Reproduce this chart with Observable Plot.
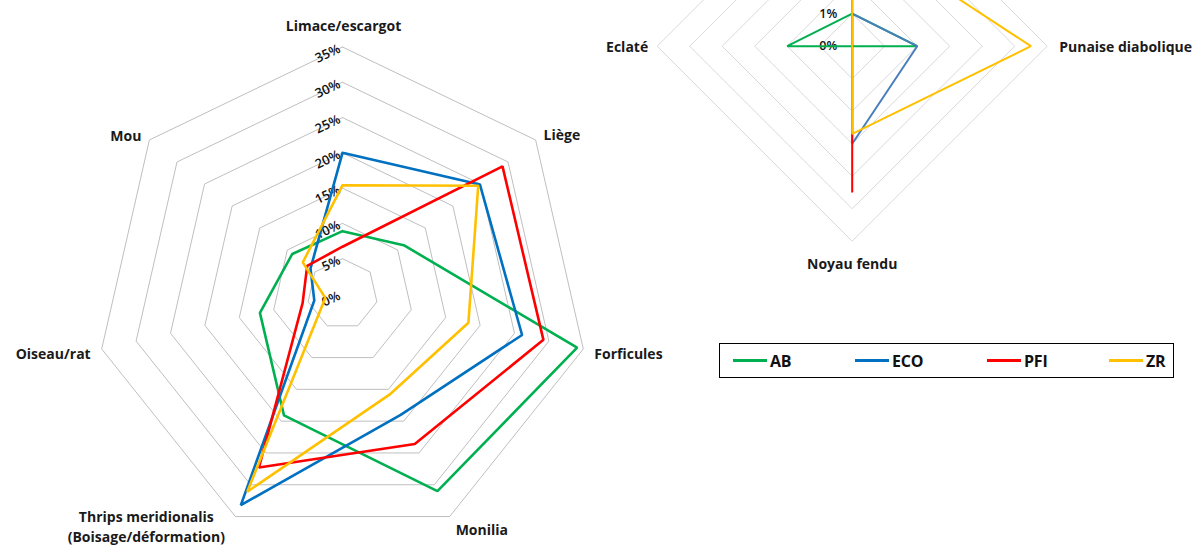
<!DOCTYPE html>
<html>
<head>
<meta charset="utf-8">
<script src="https://cdn.jsdelivr.net/npm/d3@7"></script>
<script src="https://cdn.jsdelivr.net/npm/@observablehq/plot@0.6"></script>
<style>
  body { margin: 0; background: #fff; }
  #wrap { position: relative; width: 1198px; height: 545px; overflow: hidden; font-family: "Open Sans", Lato, sans-serif; }
  #wrap svg { position: absolute; left: 0; top: 0; }
  #legend { position: absolute; left: 719px; top: 343px; width: 453px; height: 33px; border: 1px solid #000; box-sizing: content-box; }
  .item { position: absolute; top: 0; height: 33px; display: flex; align-items: center; font-weight: 700; font-size: 16px; color: #111; letter-spacing: -0.2px; }
  .sw { display: inline-block; width: 34px; height: 3px; margin-right: 3px; }
</style>
</head>
<body>
<div id="wrap"></div>
<script>
// ---------- data ----------
const seriesNames = ["AB", "ECO", "PFI", "ZR"];

// left radar (7 axes, clockwise from top)
const leftCategories = ["Limace/escargot", "Liège", "Forficules", "Monilia", "Thrips meridionalis\n(Boisage/déformation)", "Oiseau/rat", "Mou"];
const leftAB  = [8.9, 11.1, 34.1, 31.0, 19.1, 12.0, 9.1];
const leftECO = [20.0, 24.9, 26.1, 19.0, 33.2, 4.1, 5.8];
const leftPFI = [6.7, 29.0, 29.2, 23.6, 27.3, 5.8, 6.4];
const leftZR  = [15.4, 24.6, 18.3, 15.7, 31.1, 2.5, 7.2];
const leftTicks = [0, 5, 10, 15, 20, 25, 30, 35];

// right radar (4 axes, clockwise from top; the top axis lies outside the picture)
const rightCategories = ["", "Punaise diabolique", "Noyau fendu", "Eclaté"];
const rightAB  = [1, 2, 0, 2];
const rightECO = [1, 2, 3, 0];
const rightPFI = [2, 0, 4.5, 0];
const rightZR  = [3.6, 5.5, 2.7, 0];
const rightTicks = [0, 1, 2, 3, 4, 5, 6];

// ---------- helpers ----------
const W = 1198, H = 545;
function px(v, i, n) { return v * Math.sin(2 * Math.PI * i / n); }
function py(v, i, n) { return v * Math.cos(2 * Math.PI * i / n); }

function buildSeries(cats, arrays) {
  const n = cats.length, rows = [];
  seriesNames.forEach((s, k) => {
    for (let j = 0; j <= n; j++) {
      const i = j % n;
      rows.push({series: s, i, value: arrays[k][i]});
    }
  });
  return rows;
}
function buildRings(ticks, n) {
  const rows = [];
  ticks.filter(t => t > 0).forEach(t => {
    for (let j = 0; j <= n; j++) rows.push({t, i: j % n});
  });
  return rows;
}

function radar(opts) {
  const {cats, arrays, ticks, cx, cy, k, colors, ringColor, lineWidth, labelSpecs, tickMark} = opts;
  const n = cats.length;
  const rmax = d3.max(ticks);
  const series = buildSeries(cats, arrays);
  const rings = buildRings(ticks, n);
  const labelMarks = cats.map((c, i) => {
    if (!c) return null;
    const s = labelSpecs[i];
    return Plot.text([c], {
      x: () => px(rmax, i, n), y: () => py(rmax, i, n), text: d => d,
      textAnchor: s.anchor, dx: s.dx, dy: s.dy, lineHeight: 1.4,
      fontSize: 14, fontWeight: 700, fill: "#1a1a1a"
    });
  }).filter(Boolean);
  return Plot.plot({
    width: W, height: H, margin: 0,
    style: {background: "transparent", fontFamily: "'Open Sans', Lato, sans-serif", overflow: "hidden"},
    x: {domain: [-cx / k, (W - cx) / k], axis: null},
    y: {domain: [-(H - cy) / k, cy / k], axis: null},
    color: {domain: seriesNames, range: colors},
    marks: [
      Plot.line(rings, {x: d => px(d.t, d.i, n), y: d => py(d.t, d.i, n), z: "t", stroke: ringColor, strokeWidth: 1}),
      tickMark,
      Plot.line(series, {x: d => px(d.value, d.i, n), y: d => py(d.value, d.i, n), z: "series", stroke: "series", strokeWidth: lineWidth, strokeLinejoin: "miter"}),
      ...labelMarks
    ]
  });
}

// ---------- left radar ----------
const leftCy = 293.5, leftK = 247 / 35;
const left = radar({
  cats: leftCategories,
  arrays: [leftAB, leftECO, leftPFI, leftZR],
  ticks: leftTicks,
  cx: 342, cy: leftCy, k: leftK,
  colors: ["#00b050", "#0070c0", "#ff0000", "#ffc000"],
  ringColor: "#bfbfbf",
  lineWidth: 2.6,
  labelSpecs: [
    {anchor: "middle", dx: 1, dy: -22},
    {anchor: "start", dx: 8, dy: -6},
    {anchor: "start", dx: 11, dy: 4},
    {anchor: "start", dx: 6, dy: 12},
    {anchor: "middle", dx: -89, dy: 9},
    {anchor: "end", dx: -11, dy: 4},
    {anchor: "end", dx: -8, dy: -5}
  ],
  tickMark: Plot.text(leftTicks, {
    x: () => 0, y: t => t, text: t => t + "%",
    textAnchor: "end", rotate: -25.7, dx: -3, dy: 1,
    fontSize: 13, fontWeight: 600, fill: "#111", letterSpacing: "-0.3px"
  })
});

// ---------- right radar ----------
const rightCy = 45.7, rightK = 32.5;
const right = radar({
  cats: rightCategories,
  arrays: [rightAB, rightECO, rightPFI, rightZR],
  ticks: rightTicks,
  cx: 851.7, cy: rightCy, k: rightK,
  colors: ["#00b050", "#4a7ebb", "#ff0000", "#ffc000"],
  ringColor: "#d9d9d9",
  lineWidth: 2,
  labelSpecs: [
    {anchor: "middle", dx: 0, dy: -20},
    {anchor: "start", dx: 12, dy: 0},
    {anchor: "middle", dx: 0, dy: 22},
    {anchor: "end", dx: -9, dy: 0}
  ],
  tickMark: Plot.text(rightTicks, {
    filter: t => rightCy - t * rightK > 6,
    x: () => 0, y: t => t, text: t => t + "%",
    textAnchor: "end", dx: -15, dy: 0,
    fontSize: 12.5, fontWeight: 600, fill: "#111", letterSpacing: "-0.3px"
  })
});

const wrap = document.getElementById("wrap");
wrap.append(left, right);

// ---------- legend ----------
const legendColors = ["#00b050", "#0070c0", "#ff0000", "#ffc000"];
const legendLeft = [13, 135, 267, 389];
const legend = document.createElement("div");
legend.id = "legend";
seriesNames.forEach((s, i) => {
  const it = document.createElement("div");
  it.className = "item";
  it.style.left = legendLeft[i] + "px";
  const sw = document.createElement("span");
  sw.className = "sw";
  sw.style.background = legendColors[i];
  const tx = document.createElement("span");
  tx.textContent = s;
  it.append(sw, tx);
  legend.append(it);
});
wrap.append(legend);
</script>
</body>
</html>
